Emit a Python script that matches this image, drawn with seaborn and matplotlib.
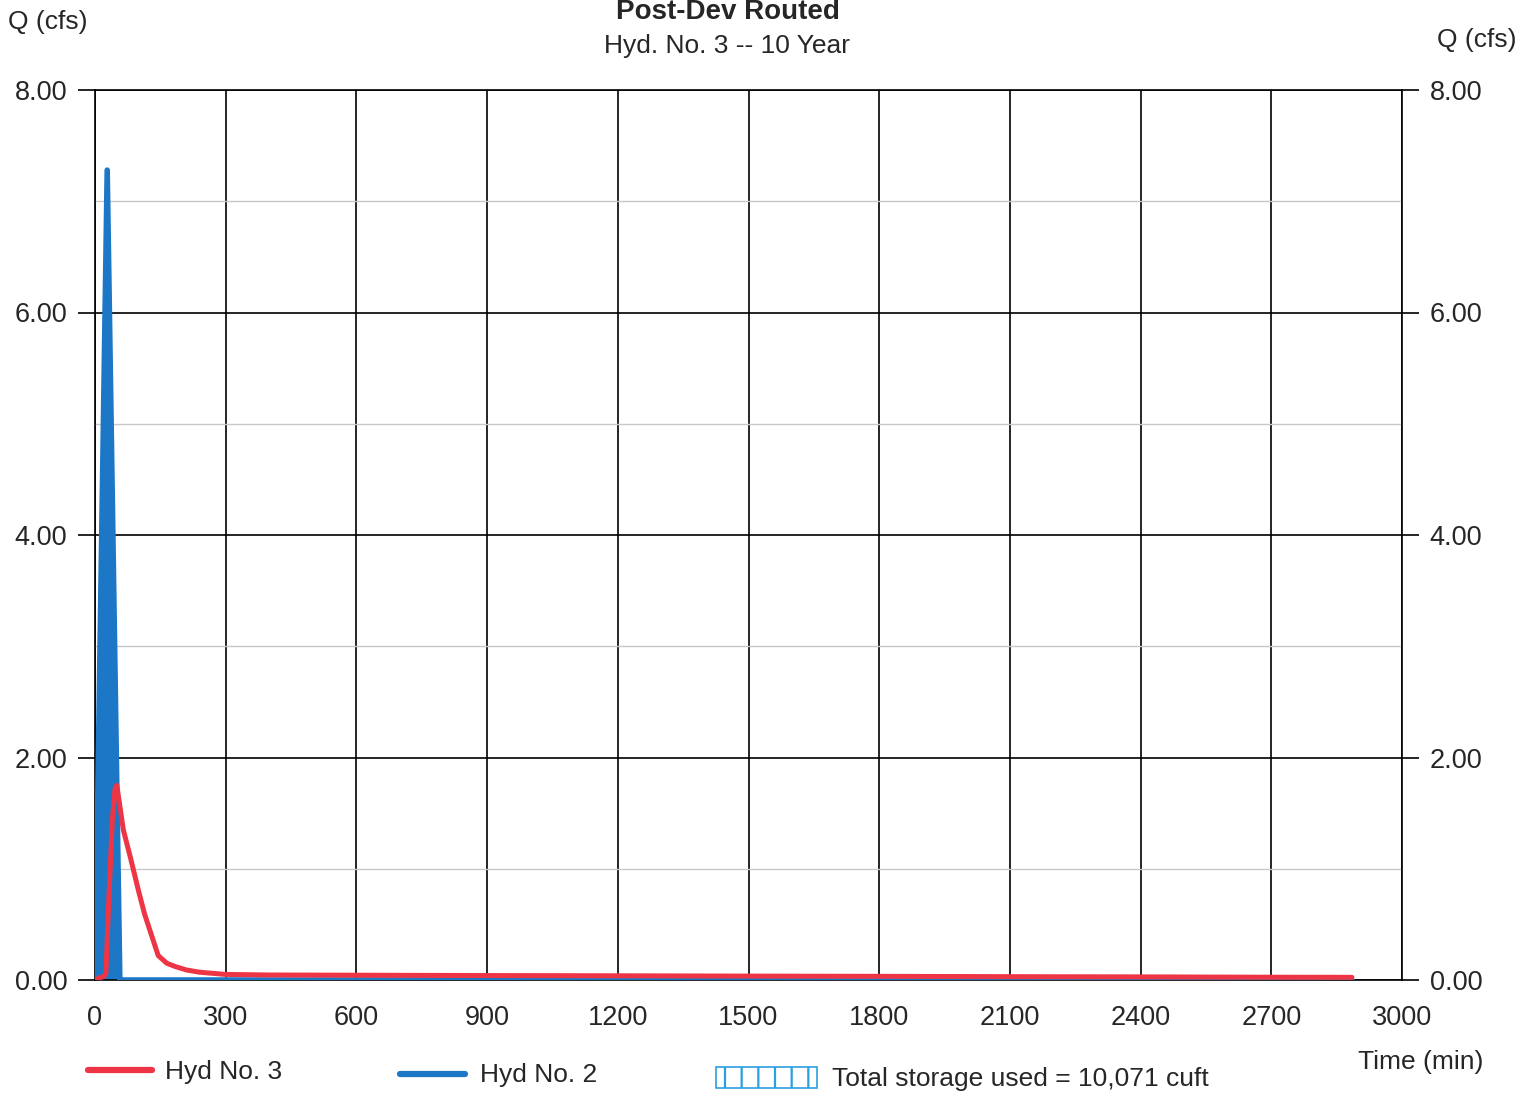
import matplotlib
matplotlib.use('Agg')
import numpy as np
import pandas as pd
import seaborn as sns
import matplotlib.pyplot as plt
from matplotlib.lines import Line2D
from matplotlib.patches import Rectangle

# Hyd No. 2 (inflow)
hyd2_time = [0, 28, 57, 2885]
hyd2_q = [0.0, 7.28, 0.0, 0.0]

# Hyd No. 3 (routed outflow)
hyd3_time = [0, 10, 20, 25, 32, 40, 46, 50, 55, 65, 82, 100, 114, 130, 145,
             165, 185, 210, 240, 300, 400, 600, 900, 1200, 1500, 1800, 2100,
             2400, 2700, 2885]
hyd3_q = [0.0, 0.02, 0.03, 0.06, 0.75, 1.45, 1.72, 1.75, 1.62, 1.35, 1.09,
          0.80, 0.59, 0.40, 0.22, 0.15, 0.12, 0.09, 0.07, 0.05, 0.045, 0.043,
          0.04, 0.038, 0.035, 0.033, 0.03, 0.028, 0.025, 0.024]

x_ticks = list(range(0, 3001, 300))
y_major = [0, 2, 4, 6, 8]
y_minor = [1, 3, 5, 7]

red = '#ee3545'
blue = '#1c78c6'

sns.set_theme(style='white')
plt.rcParams['font.family'] = ['Liberation Sans', 'DejaVu Sans']
plt.rcParams['hatch.linewidth'] = 1.6

df2 = pd.DataFrame({'Time': hyd2_time, 'Q': hyd2_q})
df3 = pd.DataFrame({'Time': hyd3_time, 'Q': hyd3_q})

fig = plt.figure(figsize=(15.2, 10.93), dpi=100)
ax = fig.add_axes([95 / 1520, 1 - 980 / 1093, 1307 / 1520, 890 / 1093])

# storage (hatched area under inflow)
ax.fill_between(hyd2_time, hyd2_q, 0, facecolor='#5a9ed8', edgecolor=blue,
                hatch='|' * 10, linewidth=0, zorder=2)
sns.lineplot(data=df2, x='Time', y='Q', ax=ax, color=blue, linewidth=4.0,
             estimator=None, sort=False, zorder=3)
sns.lineplot(data=df3, x='Time', y='Q', ax=ax, color=red, linewidth=3.6,
             estimator=None, sort=False, zorder=4)

ax.set_xlim(0, 3000)
ax.set_ylim(0, 8)
ax.set_xticks(x_ticks)
ax.set_yticks(y_major)
ax.set_yticks(y_minor, minor=True)
ax.set_yticklabels([f'{v:.2f}' for v in y_major])
ax.set_xlabel('')
ax.set_ylabel('')

ax.grid(True, which='major', axis='both', color='black', linewidth=1.2, zorder=1)
ax.grid(True, which='minor', axis='y', color='#c8c8c8', linewidth=1.0, zorder=1)
ax.set_axisbelow(True)
for s in ax.spines.values():
    s.set_color('black')
    s.set_linewidth(1.2)

ax.tick_params(axis='y', which='major', left=True, right=True, labelright=True,
               length=12, width=1.2, color='black', direction='out',
               labelsize=19.5, pad=8)
ax.tick_params(axis='y', which='minor', left=False, right=False)
ax.tick_params(axis='x', which='major', bottom=False, labelsize=19.5, pad=12)

fig.text(728 / 1520, 1 - 12 / 1093, 'Post-Dev Routed', ha='center', va='center',
         fontsize=20, fontweight='bold')
fig.text(727 / 1520, 1 - 46 / 1093, 'Hyd. No. 3 -- 10 Year', ha='center',
         va='center', fontsize=19)
fig.text(48 / 1520, 1 - 22 / 1093, 'Q (cfs)', ha='center', va='center', fontsize=19)
fig.text(1477 / 1520, 1 - 40 / 1093, 'Q (cfs)', ha='center', va='center', fontsize=19)
fig.text(1421 / 1520, 1 - 1062 / 1093, 'Time (min)', ha='center', va='center',
         fontsize=19)

# legend row
W, H = 1520, 1093
fig.add_artist(Line2D([88 / W, 152 / W], [1 - 1070 / H] * 2, color=red,
                      linewidth=4.5, transform=fig.transFigure))
fig.text(165 / W, 1 - 1072 / H, 'Hyd No. 3', va='center', fontsize=19)
fig.add_artist(Line2D([400 / W, 465 / W], [1 - 1074 / H] * 2, color=blue,
                      linewidth=4.5, transform=fig.transFigure))
fig.text(480 / W, 1 - 1075 / H, 'Hyd No. 2', va='center', fontsize=19)
fig.add_artist(Rectangle((716 / W, 1 - 1088 / H), 101 / W, 21 / H,
                         facecolor='none', edgecolor='#2aa0e0', hatch='|',
                         linewidth=1.2, transform=fig.transFigure))
fig.text(832 / W, 1 - 1079 / H, 'Total storage used = 10,071 cuft', va='center',
         fontsize=19)

fig.savefig('out.png', dpi=100)
